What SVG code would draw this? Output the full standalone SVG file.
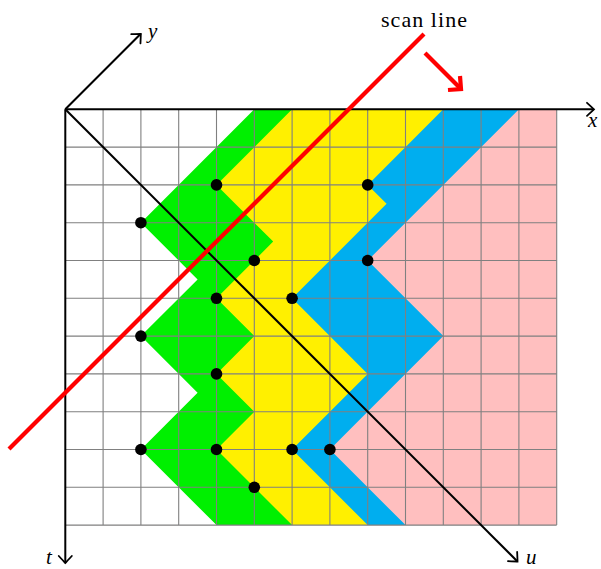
<svg xmlns="http://www.w3.org/2000/svg" width="601" height="569" viewBox="0 0 601 569">
<style>
.grid{stroke:#808080;stroke-width:1.1;fill:none}
.axis{stroke:#000;stroke-width:2;fill:none}
.red{stroke:#ff0000;stroke-width:4.2;fill:none;stroke-linecap:butt}
.dot{fill:#000}
.lbl{font-family:"Liberation Serif",serif;font-style:italic;font-size:21px;fill:#000}
.txt{font-family:"Liberation Serif",serif;font-size:22px;fill:#000}
</style>
<defs>
<marker id="to" markerUnits="userSpaceOnUse" markerWidth="16" markerHeight="16" viewBox="-9 -8 11 16" refX="0" refY="0" orient="auto">
<path d="M -7,-6.5 Q -1.8,-1.8 0,0 Q -1.8,1.8 -7,6.5" fill="none" stroke="#000" stroke-width="1.8" stroke-linecap="round"/>
</marker>
</defs>
<rect width="601" height="569" fill="#fff"/>
<g id="regions" transform="translate(65.3 109.3) scale(37.8)">
<rect x="0" y="0" width="13" height="11" fill="#ffbfbf"/>
<polygon fill="#00aeef" points="0,0 12,0 8,4 10,6 7,9 9,11 0,11"/>
<polygon fill="#fff000" points="0,0 10,0 8,2 8.5,2.5 6,5 8,7 6,9 8,11 0,11"/>
<polygon fill="#00f000" points="0,0 6,0 4,2 5.5,3.5 4,5 5,6 4,7 5,8 4,9 6,11 0,11"/>
<polygon fill="#ffffff" points="0,0 5,0 2,3 3.5,4.5 2,6 3.5,7.5 2,9 4,11 0,11"/>
</g>
<g id="grid" class="grid">
<path d="M103.1,109.3V525.1 M140.9,109.3V525.1 M178.7,109.3V525.1 M216.5,109.3V525.1 M254.3,109.3V525.1 M292.1,109.3V525.1 M329.9,109.3V525.1 M367.7,109.3V525.1 M405.5,109.3V525.1 M443.3,109.3V525.1 M481.1,109.3V525.1 M518.9,109.3V525.1 M556.7,109.3V525.1"/>
<path d="M65.3,147.1H556.7 M65.3,184.9H556.7 M65.3,222.7H556.7 M65.3,260.5H556.7 M65.3,298.3H556.7 M65.3,336.1H556.7 M65.3,373.9H556.7 M65.3,411.7H556.7 M65.3,449.5H556.7 M65.3,487.3H556.7 M65.3,525.1H556.7"/>
</g>
<g id="connectors">
<line class="axis" x1="65.3" y1="109.3" x2="594" y2="109.3" marker-end="url(#to)"/>
<line class="axis" x1="65.3" y1="109.3" x2="65.3" y2="563" marker-end="url(#to)"/>
<line class="axis" x1="65.3" y1="109.3" x2="140.8" y2="33.8" marker-end="url(#to)"/>
<line class="axis" x1="65.3" y1="109.3" x2="517.5" y2="561.5" marker-end="url(#to)"/>
<line class="red" x1="9" y1="449" x2="424" y2="34"/>
<line class="red" x1="425" y1="53" x2="460" y2="88"/>
<polyline class="red" points="448,90 461,89 460,76" stroke-linejoin="miter"/>
</g>
<g id="labels">
<text class="lbl" x="588" y="127">x</text>
<text class="lbl" x="148" y="38">y</text>
<text class="lbl" x="46" y="564">t</text>
<text class="lbl" x="526" y="564">u</text>
<text class="txt" x="381" y="27" textLength="86" lengthAdjust="spacing">scan line</text>
</g>
<g id="dots">
<g id="p4_2"><circle class="dot" cx="216.5" cy="184.9" r="5.8"/></g>
<g id="p2_3"><circle class="dot" cx="140.9" cy="222.7" r="5.8"/></g>
<g id="p5_4"><circle class="dot" cx="254.3" cy="260.5" r="5.8"/></g>
<g id="p8_2"><circle class="dot" cx="367.7" cy="184.9" r="5.8"/></g>
<g id="p8_4"><circle class="dot" cx="367.7" cy="260.5" r="5.8"/></g>
<g id="p4_5"><circle class="dot" cx="216.5" cy="298.3" r="5.8"/></g>
<g id="p6_5"><circle class="dot" cx="292.1" cy="298.3" r="5.8"/></g>
<g id="p2_6"><circle class="dot" cx="140.9" cy="336.1" r="5.8"/></g>
<g id="p4_7"><circle class="dot" cx="216.5" cy="373.9" r="5.8"/></g>
<g id="p2_9"><circle class="dot" cx="140.9" cy="449.5" r="5.8"/></g>
<g id="p4_9"><circle class="dot" cx="216.5" cy="449.5" r="5.8"/></g>
<g id="p6_9"><circle class="dot" cx="292.1" cy="449.5" r="5.8"/></g>
<g id="p7_9"><circle class="dot" cx="329.9" cy="449.5" r="5.8"/></g>
<g id="p5_10"><circle class="dot" cx="254.3" cy="487.3" r="5.8"/></g>
</g>
</svg>
